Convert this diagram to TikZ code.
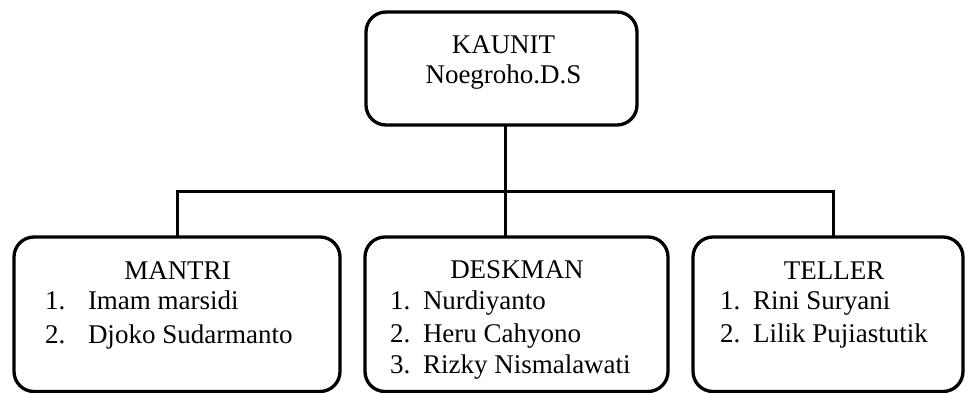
\documentclass[tikz,border=0pt]{standalone}
\usepackage{fontspec}
\setmainfont{Liberation Serif}
\begin{document}
\begin{tikzpicture}[x=1pt,y=1pt,
  box/.style={draw, line width=3.3pt, rounded corners=20pt, inner sep=0pt, outer sep=0pt, anchor=north west},
  conn/.style={line width=3pt, line join=miter},
  txt/.style={inner sep=0pt, outer sep=0pt, font=\fontsize{27}{32}\selectfont},
  ctxt/.style={txt, anchor=base},
  ltxt/.style={txt, anchor=base west}]
\useasboundingbox (0,0) rectangle (966,392);
\clip (0,0) rectangle (966,392);
% boxes
\node[box, minimum width=271pt, minimum height=113pt] (kaunit) at (366,380) {};
\node[box, minimum width=326pt, minimum height=154.5pt] (mantri) at (14,155) {};
\node[box, minimum width=303pt, minimum height=154.5pt] (desk) at (365,155) {};
\node[box, minimum width=270pt, minimum height=154.5pt] (teller) at (693,155) {};
% connector junctions
\coordinate (jm) at (177,201);
\coordinate (jd) at (505,201);
\coordinate (jt) at (833,201);
\draw[conn] (jd |- kaunit.south) -- (jd);
\draw[conn] (mantri.north -| jm) -- (jm) -- (jt) -- (teller.north -| jt);
\draw[conn] (jd) -- (jd |- desk.north);
% texts
\node[ctxt] (t1) at (503.5,339) {KAUNIT};
\node[ctxt] (t2) at (503.5,309) {Noegroho.D.S};
\node[ctxt] (m0) at (177.5,113) {MANTRI};
\node[ltxt] (m1n) at (45,83) {1.};
\node[ltxt] (m1) at (88,83) {Imam marsidi};
\node[ltxt] (m2n) at (45,49) {2.};
\node[ltxt] (m2) at (88,49) {Djoko Sudarmanto};
\node[ctxt] (d0) at (517,114) {DESKMAN};
\node[ltxt] (d1n) at (390,83) {1.};
\node[ltxt] (d1) at (423,83) {Nurdiyanto};
\node[ltxt] (d2n) at (390,50) {2.};
\node[ltxt] (d2) at (423,50) {Heru Cahyono};
\node[ltxt] (d3n) at (390,19) {3.};
\node[ltxt] (d3) at (423,19) {Rizky Nismalawati};
\node[ctxt] (e0) at (834,113) {TELLER};
\node[ltxt] (e1n) at (720,83) {1.};
\node[ltxt] (e1) at (753,83) {Rini Suryani};
\node[ltxt] (e2n) at (720,50) {2.};
\node[ltxt] (e2) at (753,50) {Lilik Pujiastutik};
\end{tikzpicture}
\end{document}
